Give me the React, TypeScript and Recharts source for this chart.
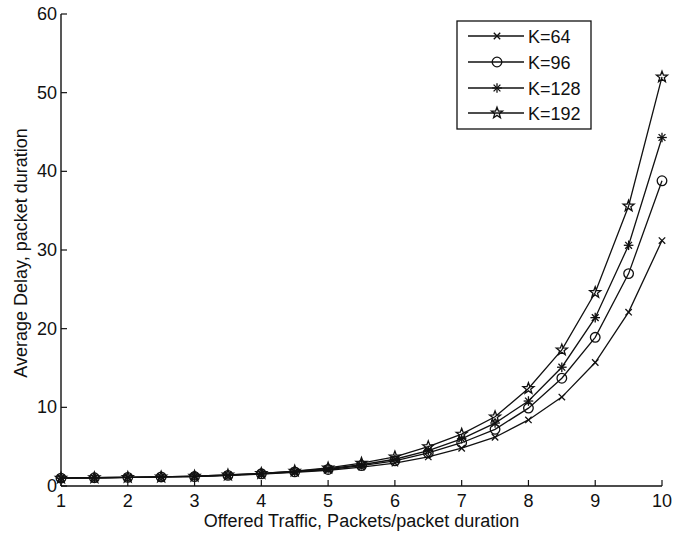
import React from 'react';
import { LineChart, Line, XAxis, YAxis } from 'recharts';

// ---- data ----
const traffic = [1, 1.5, 2, 2.5, 3, 3.5, 4, 4.5, 5, 5.5, 6, 6.5, 7, 7.5, 8, 8.5, 9, 9.5, 10];
const delayK64 = [1.0, 1.05, 1.1, 1.15, 1.2, 1.35, 1.5, 1.75, 2.0, 2.4, 2.9, 3.7, 4.8, 6.2, 8.4, 11.3, 15.7, 22.1, 31.2];
const delayK96 = [1.0, 1.05, 1.1, 1.15, 1.2, 1.35, 1.55, 1.8, 2.1, 2.6, 3.2, 4.2, 5.5, 7.2, 9.9, 13.7, 18.9, 27.0, 38.8];
const delayK128 = [1.0, 1.05, 1.1, 1.15, 1.25, 1.4, 1.6, 1.85, 2.2, 2.7, 3.4, 4.5, 6.0, 8.0, 10.8, 15.1, 21.4, 30.6, 44.3];
const delayK192 = [1.0, 1.05, 1.1, 1.15, 1.25, 1.4, 1.6, 1.9, 2.3, 2.9, 3.7, 5.0, 6.6, 8.8, 12.4, 17.3, 24.6, 35.6, 52.0];

const seriesNames = ['K=64', 'K=96', 'K=128', 'K=192'];
const seriesKeys = ['k64', 'k96', 'k128', 'k192'];
const seriesMarkers = ['x', 'o', '*', 'p'];
const seriesValues = [delayK64, delayK96, delayK128, delayK192];

const xTicks = [1, 2, 3, 4, 5, 6, 7, 8, 9, 10];
const yTicks = [0, 10, 20, 30, 40, 50, 60];

const xLabel = 'Offered Traffic, Packets/packet duration';
const yLabel = 'Average Delay, packet duration';

const data = traffic.map((t, i) => {
  const row: any = { x: t };
  seriesKeys.forEach((k, j) => {
    row[k] = seriesValues[j][i];
  });
  return row;
});

const FONT = '"Liberation Sans", Arial, Helvetica, sans-serif';
const INK = '#111';
const TICK_LEN = 6;
const FS = 18;

function Marker({ kind, cx, cy }: { kind: string; cx: number; cy: number }) {
  const sp = { stroke: INK, strokeWidth: 1.3, fill: 'none' };
  if (kind === 'x') {
    const r = 3.2;
    return (
      <g {...sp}>
        <line x1={cx - r} y1={cy - r} x2={cx + r} y2={cy + r} />
        <line x1={cx - r} y1={cy + r} x2={cx + r} y2={cy - r} />
      </g>
    );
  }
  if (kind === 'o') {
    return <circle cx={cx} cy={cy} r={4.8} {...sp} />;
  }
  if (kind === '*') {
    const r = 4.8;
    const d = r * 0.707;
    return (
      <g {...sp}>
        <line x1={cx - r} y1={cy} x2={cx + r} y2={cy} />
        <line x1={cx} y1={cy - r} x2={cx} y2={cy + r} />
        <line x1={cx - d} y1={cy - d} x2={cx + d} y2={cy + d} />
        <line x1={cx - d} y1={cy + d} x2={cx + d} y2={cy - d} />
      </g>
    );
  }
  // pentagram
  const pts: string[] = [];
  for (let i = 0; i < 10; i++) {
    const a = ((-90 + i * 36) * Math.PI) / 180;
    const r = i % 2 === 0 ? 5.8 : 2.4;
    pts.push(`${cx + r * Math.cos(a)},${cy + r * Math.sin(a)}`);
  }
  return <polygon points={pts.join(' ')} {...sp} />;
}

const BottomTick = (props: any) => {
  const { x, y, payload } = props;
  return (
    <g>
      <line x1={x} x2={x} y1={y} y2={y - TICK_LEN} stroke={INK} strokeWidth={1.2} />
      <text x={x} y={y + 21} textAnchor="middle" fontSize={FS} fontFamily={FONT} fill={INK}>
        {payload.value}
      </text>
    </g>
  );
};

const TopTick = (props: any) => {
  const { x, y } = props;
  return <line x1={x} x2={x} y1={y} y2={y + TICK_LEN} stroke={INK} strokeWidth={1.2} />;
};

const LeftTick = (props: any) => {
  const { x, y, payload } = props;
  return (
    <g>
      <line x1={x} x2={x + TICK_LEN} y1={y} y2={y} stroke={INK} strokeWidth={1.2} />
      <text x={x - 4} y={y + 6} textAnchor="end" fontSize={FS} fontFamily={FONT} fill={INK}>
        {payload.value}
      </text>
    </g>
  );
};

const RightTick = (props: any) => {
  const { x, y } = props;
  return <line x1={x} x2={x - TICK_LEN} y1={y} y2={y} stroke={INK} strokeWidth={1.2} />;
};

const YTitle = (props: any) => {
  const vb = props.viewBox || { x: 0, y: 14, width: 61, height: 472 };
  const cx = vb.x + 21;
  const cy = vb.y + vb.height / 2 + 3;
  return (
    <text
      x={cx}
      y={cy}
      transform={`rotate(-90 ${cx} ${cy})`}
      textAnchor="middle"
      dominantBaseline="central"
      fontSize={FS}
      fontFamily={FONT}
      fill={INK}
    >
      {yLabel}
    </text>
  );
};

const XTitle = (props: any) => {
  const vb = props.viewBox || { x: 61, y: 486, width: 600, height: 52 };
  const cx = vb.x + vb.width / 2;
  const cy = vb.y + 41;
  return (
    <text x={cx} y={cy} textAnchor="middle" fontSize={FS} fontFamily={FONT} fill={INK}>
      {xLabel}
    </text>
  );
};

function LegendBox() {
  const w = 134;
  const h = 108;
  const rowY = [16, 42, 68, 93];
  return (
    <svg
      width={w + 2}
      height={h + 2}
      style={{ position: 'absolute', left: 456, top: 20 }}
    >
      <rect x={1} y={1} width={w} height={h} fill="#fff" stroke={INK} strokeWidth={1.3} />
      {seriesNames.map((name, i) => (
        <g key={name}>
          <line x1={12} x2={68} y1={rowY[i]} y2={rowY[i]} stroke={INK} strokeWidth={1.3} />
          <Marker kind={seriesMarkers[i]} cx={41} cy={rowY[i]} />
          <text
            x={72}
            y={rowY[i] + 6.5}
            fontSize={FS}
            fontFamily={FONT}
            fill={INK}
          >
            {name}
          </text>
        </g>
      ))}
    </svg>
  );
}

export default function App() {
  return (
    <div
      style={{
        position: 'absolute',
        left: 0,
        top: 0,
        width: 681,
        height: 538,
        background: '#fff',
        overflow: 'hidden',
      }}
    >
      <LineChart
        width={681}
        height={538}
        data={data}
        margin={{ top: 14, right: 19, bottom: 0, left: 0 }}
      >
        <XAxis
          dataKey="x"
          type="number"
          domain={[1, 10]}
          ticks={xTicks}
          interval={0}
          height={52}
          tickSize={0}
          tickMargin={0}
          tickLine={false}
          tick={<BottomTick />}
          axisLine={{ stroke: INK, strokeWidth: 1.4 }}
          label={<XTitle />}
        />
        <XAxis
          xAxisId="top"
          orientation="top"
          dataKey="x"
          type="number"
          domain={[1, 10]}
          ticks={xTicks}
          interval={0}
          height={0}
          tickSize={0}
          tickMargin={0}
          tickLine={false}
          tick={<TopTick />}
          axisLine={{ stroke: INK, strokeWidth: 1.4 }}
        />
        <YAxis
          type="number"
          domain={[0, 60]}
          ticks={yTicks}
          interval={0}
          width={61}
          tickSize={0}
          tickMargin={0}
          tickLine={false}
          tick={<LeftTick />}
          axisLine={{ stroke: INK, strokeWidth: 1.4 }}
          label={<YTitle />}
        />
        <YAxis
          yAxisId="right"
          orientation="right"
          type="number"
          domain={[0, 60]}
          ticks={yTicks}
          interval={0}
          width={0}
          tickSize={0}
          tickMargin={0}
          tickLine={false}
          tick={<RightTick />}
          axisLine={{ stroke: INK, strokeWidth: 1.4 }}
        />
        {seriesKeys.map((k, i) => (
          <Line
            key={k}
            dataKey={k}
            name={seriesNames[i]}
            type="linear"
            stroke={INK}
            strokeWidth={1.3}
            isAnimationActive={false}
            dot={(p: any) => (
              <Marker key={`${k}-${p.index}`} kind={seriesMarkers[i]} cx={p.cx} cy={p.cy} />
            )}
            activeDot={false}
          />
        ))}
      </LineChart>
      <LegendBox />
    </div>
  );
}
